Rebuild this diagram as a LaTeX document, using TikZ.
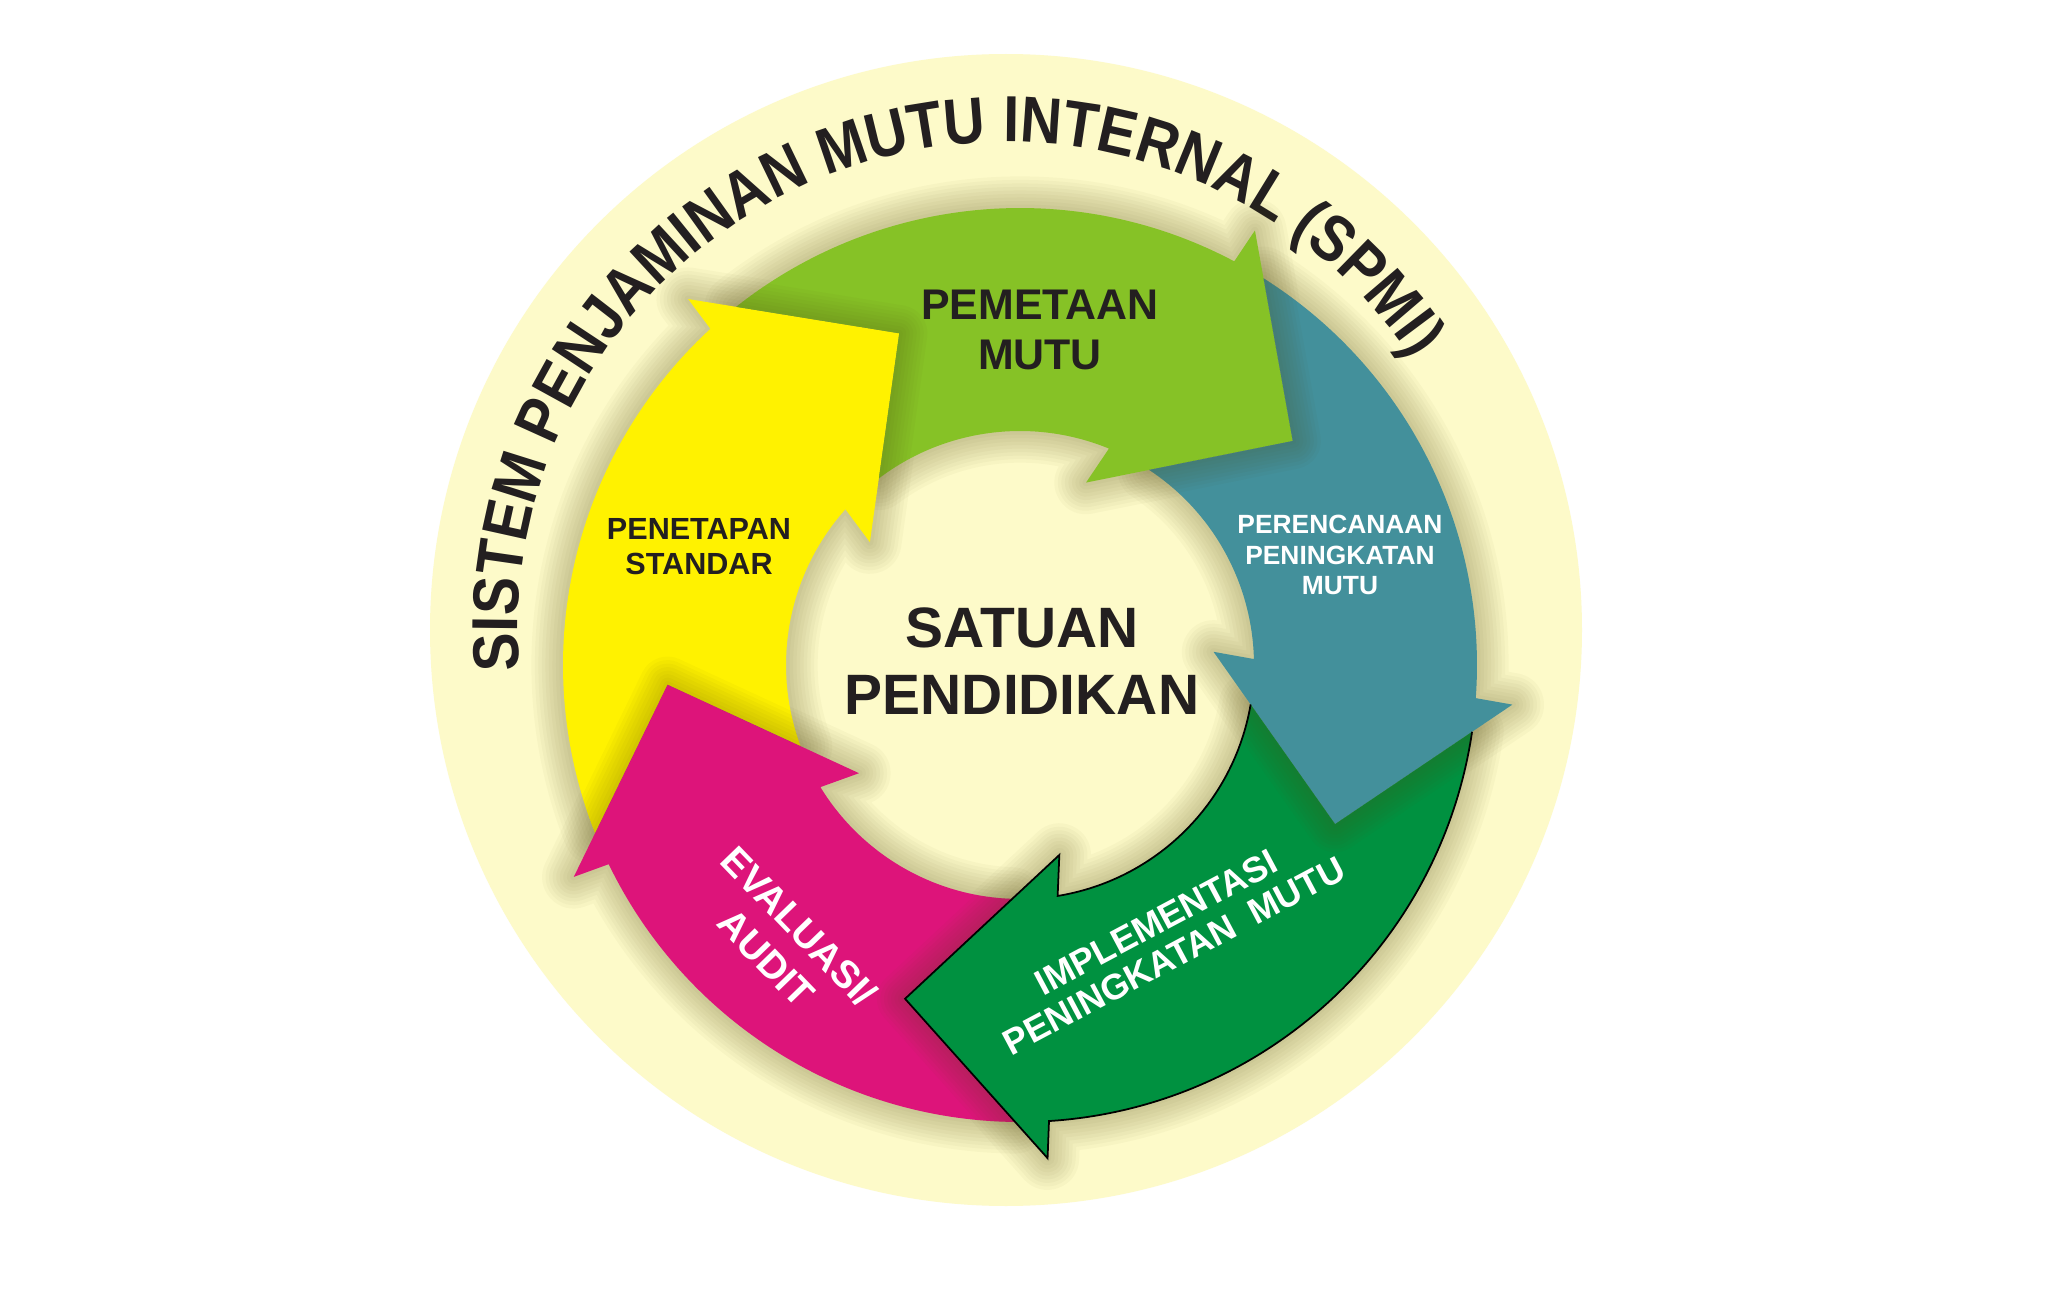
\documentclass[tikz,border=0pt]{standalone}
\usepackage{fontspec}
\setmainfont{Liberation Sans}
\newfontfamily\arcfont[FakeStretch=0.88]{Liberation Sans}
\usetikzlibrary{decorations.text}

\definecolor{cream}{RGB}{253,250,201}
\definecolor{ylw}{RGB}{255,242,0}
\definecolor{lgreen}{RGB}{134,194,38}
\definecolor{stdteal}{RGB}{67,144,155}
\definecolor{dgreen}{RGB}{0,145,64}
\definecolor{mag}{RGB}{221,20,122}
\definecolor{ink}{RGB}{35,31,32}
\definecolor{shade}{RGB}{90,80,25}

% ring: inner 2.34, outer 4.57, tip 3.53, barbs 4.94 / 1.94
\newcommand\arrowpath[2]{({#2+18.39}:4.57) arc[start angle={#2+18.39}, end angle={#1+22.64}, radius=4.57]
	-- ({#1+22.2}:4.94) -- (#1:3.53) -- ({#1+30.7}:1.94) -- ({#1+28.26}:2.34)
	arc[start angle={#1+28.26}, end angle={#2+17.09}, radius=2.34] -- (#2:3.53) -- cycle}
\newcommand\edgepath[2]{({#2+18.39}:4.57) arc[start angle={#2+18.39}, end angle={#1+22.64}, radius=4.57]
	-- ({#1+22.2}:4.94) -- (#1:3.53) -- ({#1+30.7}:1.94) -- ({#1+28.26}:2.34)
	arc[start angle={#1+28.26}, end angle={#2+17.09}, radius=2.34]}
\newcommand\headpath[1]{({#1+22.2}:4.94) -- (#1:3.53) -- ({#1+30.7}:1.94)}

\tikzset{
	shadowline/.style = {draw=shade, opacity=0.035, line join=round},
	label/.style = {align=center, inner sep=0pt},
}

\begin{document}
\begin{tikzpicture}

\fill[white] (0,0) rectangle (20.48,13.12);
\useasboundingbox (0,0) rectangle (20.48,13.12);

\begin{scope}[xshift=10.06cm, yshift=6.82cm]
	\fill[cream] (0,0) circle (5.76);
	\path[decorate, decoration={text along path, text align=center, text color=ink,
		text={|\arcfont\bfseries\fontsize{18.5}{20}\selectfont|SISTEM PENJAMINAN MUTU INTERNAL (SPMI)}}]
		(199.2:4.88) arc[start angle=199.2, end angle=19.2, radius=4.88];
\end{scope}

\begin{scope}[xshift=10.20cm, yshift=6.47cm]
	% soft shadows
	\foreach \tip/\prev in {110/183.2, 39.4/110, -26.8/39.4, 251/333.2, 183.2/251}
		\foreach \w in {2,4,...,18}
			\draw[shadowline, line width=\w pt] \arrowpath{\tip}{\prev};

	\foreach \tip/\prev/\col in {110/183.2/ylw, 39.4/110/lgreen, -26.8/39.4/stdteal, 251/333.2/dgreen, 183.2/251/mag}
		\fill[\col] \arrowpath{\tip}{\prev};

	% heads shade the next arrow
	\foreach \tip/\next in {110/39.4, 39.4/-26.8, -26.8/-109, 251/183.2, 183.2/110} {
		\begin{scope}
		\clip \arrowpath{\next}{\tip};
		\foreach \w in {2,4,...,16}
			\draw[shadowline, line width=\w pt] \headpath{\tip};
		\end{scope}
	}

	\draw[black, line width=0.5pt, line join=miter] \edgepath{251}{333.2};
\end{scope}

\node[label, text=ink, font=\bfseries\fontsize{16.2}{19.1}\selectfont] (satuan) at (10.22,6.51) {SATUAN\\PENDIDIKAN};
\node[label, text=ink, font=\bfseries\fontsize{12.2}{14.2}\selectfont] (pemetaan) at (10.40,9.82) {PEMETAAN\\MUTU};
\node[label, text=ink, font=\bfseries\fontsize{8.7}{10}\selectfont] (penetapan) at (6.99,7.655) {PENETAPAN\\STANDAR};
\node[label, text=white, font=\bfseries\fontsize{7.5}{8.7}\selectfont] (perencanaan) at (13.40,7.57) {PERENCANAAN\\PENINGKATAN\\MUTU};
\node[label, text=white, font=\bfseries\fontsize{11}{13}\selectfont, rotate=-46] (evaluasi) at (7.83,3.70) {EVALUASI/\\AUDIT};
\node[label, text=white, font=\bfseries\fontsize{10.2}{10.8}\selectfont, rotate=28] (implementasi) at (11.65,3.73) {IMPLEMENTASI\\PENINGKATAN\ \ MUTU};

\end{tikzpicture}
\end{document}
